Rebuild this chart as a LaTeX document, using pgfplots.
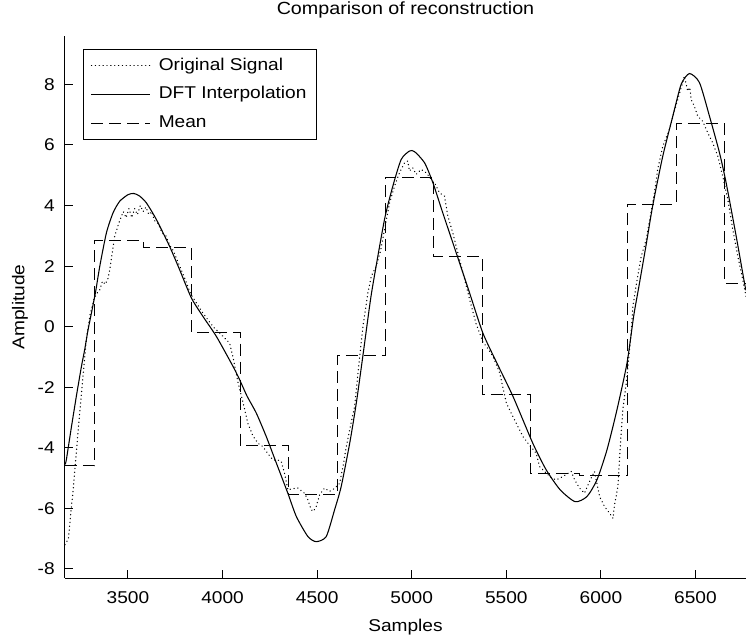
\documentclass[border=0pt]{standalone}
\usepackage{fontspec}
\setmainfont{Liberation Sans}[FakeStretch=1.12]
\usepackage{pgfplots}
\pgfplotsset{compat=1.18}
\begin{document}
\fontsize{12.8pt}{15pt}\selectfont
\begin{tikzpicture}
\useasboundingbox (-48.75pt,-45.75pt) rectangle (510.75pt,433.5pt);
\begin{axis}[
  at={(0pt,0pt)}, anchor=south west,
  scale only axis, width=510.75pt, height=406.5pt,
  xmin=3167, xmax=6767, ymin=-8.3, ymax=9.6,
  axis lines=left, axis line style={-, line width=0.75pt, black},
  tick align=inside, major tick length=6pt,
  tick style={line width=0.75pt, black},
  xtick={3500,4000,...,6500}, ytick={-8,-6,...,8},
  /pgf/number format/assume math mode=true,
  /pgf/number format/set thousands separator={},
  xticklabel style={anchor=base, yshift=-19.1pt},
  yticklabel style={anchor=east, xshift=-3.3pt},
  title={Comparison of reconstruction},
  title style={at={(axis description cs:0.5,1.0242)}, anchor=base, font=\fontsize{13.2pt}{15pt}\selectfont},
  xlabel={Samples},
  xlabel style={at={(axis description cs:0.5,-0.0996)}, anchor=base},
  ylabel={Amplitude},
  ylabel style={at={(axis description cs:-0.0661,0.5)}, anchor=center},
  legend style={at={(axis description cs:0.0264,0.976)}, anchor=north west,
    draw=black, line width=0.75pt, inner xsep=5.5pt, inner ysep=4pt, row sep=5pt, column sep=4pt,
    nodes={inner sep=2pt, text height=9.5pt, text depth=3pt},
    cells={anchor=west}},
  legend image code/.code={\draw[#1] (0pt,0pt) -- (44pt,0pt);},
]
% Original signal
\addplot[black, line width=1pt, line cap=round, dash pattern=on 0.1pt off 2.8pt] coordinates {
(3167,-7.2) (3185,-7.0) (3197,-6.2) (3210,-5.4) (3237,-3.4) (3254,-2.2) (3280,-0.4)
(3300,0.4) (3320,0.9) (3335,1.1) (3350,1.2) (3365,1.5) (3380,1.4) (3395,1.6)
(3404,1.9) (3430,3.0) (3456,3.5) (3475,3.8) (3490,3.6) (3505,3.9) (3520,3.6)
(3535,3.9) (3550,3.7) (3565,4.0) (3580,3.8) (3595,3.95) (3610,3.7) (3625,3.8)
(3640,3.5) (3660,3.4) (3680,3.1) (3700,3.0) (3720,2.7) (3740,2.5) (3760,2.2)
(3780,1.9) (3800,1.6) (3830,1.1) (3860,0.8) (3896,0.45) (3950,0.0) (4002,-0.32)
(4037,-0.54) (4055,-1.0) (4080,-1.8) (4108,-2.5) (4134,-3.2) (4160,-3.6) (4187,-3.85)
(4213,-3.96) (4240,-4.2) (4266,-4.4) (4290,-4.4) (4310,-4.45) (4330,-4.9) (4345,-5.39)
(4370,-5.35) (4398,-5.33) (4433,-5.5) (4451,-5.72) (4469,-6.05) (4480,-6.1) (4495,-5.94)
(4513,-5.55) (4539,-5.33) (4566,-5.44) (4590,-5.35) (4619,-5.17) (4640,-4.5) (4654,-3.96)
(4672,-3.4) (4698,-2.63) (4725,-0.98) (4742,0.0) (4768,1.11) (4786,1.66) (4812,2.0)
(4835,2.5) (4856,3.2) (4883,4.09) (4909,4.64) (4935,5.08) (4962,5.41) (4979,5.47)
(4988,5.14) (5005,5.25) (5023,5.03) (5050,5.19) (5077,5.08) (5103,4.86) (5125,4.7)
(5147,4.42) (5173,4.31) (5191,3.65) (5217,3.1) (5235,2.65) (5270,1.8) (5306,0.9)
(5340,0.1) (5376,-0.5) (5400,-0.7) (5429,-0.98) (5465,-1.53) (5500,-2.52) (5535,-2.97)
(5553,-3.2) (5588,-3.63) (5620,-3.9) (5658,-4.18) (5676,-4.62) (5711,-4.84) (5740,-5.0)
(5764,-5.06) (5799,-4.95) (5843,-4.78) (5861,-5.06) (5887,-5.33) (5913,-5.5) (5940,-5.11)
(5966,-4.78) (5993,-5.61) (6019,-5.94) (6046,-6.16) (6064,-6.33) (6072,-5.88) (6090,-5.28)
(6099,-4.29) (6107,-3.52) (6116,-2.74) (6134,-1.86) (6143,-1.31) (6160,-0.21) (6169,0.67)
(6190,1.5) (6213,2.32) (6239,2.86) (6260,3.6) (6283,4.42) (6300,5.19) (6327,5.96)
(6362,6.51) (6388,7.12) (6406,7.5) (6432,8.06) (6441,8.28) (6459,7.78) (6470,7.9)
(6477,7.5) (6494,7.28) (6512,6.95) (6538,6.79) (6565,6.4) (6591,6.07) (6618,5.63)
(6644,4.97) (6671,4.2) (6697,3.21) (6724,2.32) (6750,1.55) (6767,1.0)
};
\addlegendentry{Original Signal}
% DFT interpolation
\addplot[black, line width=0.8pt, smooth, tension=0.4] coordinates {
(3167,-4.55) (3174,-4.4) (3200,-3.35) (3227,-2.3) (3254,-1.31) (3271,-0.76) (3289,-0.1)
(3310,0.55) (3330,1.2) (3351,2.0) (3386,3.1) (3421,3.76) (3456,4.14) (3500,4.36)
(3530,4.40) (3560,4.32) (3597,4.09) (3650,3.54) (3720,2.65) (3773,1.88) (3835,0.95)
(3896,0.34) (3967,-0.32) (4055,-1.31) (4090,-1.75) (4130,-2.3) (4178,-2.85) (4231,-3.63)
(4284,-4.5) (4345,-5.5) (4390,-6.27) (4451,-6.93) (4495,-7.1) (4548,-6.93) (4592,-6.05)
(4627,-5.28) (4672,-3.85) (4707,-2.52) (4742,-0.95) (4777,0.67) (4795,1.4) (4856,3.54)
(4900,4.64) (4944,5.52) (4988,5.8) (5015,5.78) (5068,5.41) (5112,4.75) (5164,3.76)
(5235,2.44) (5306,1.11) (5376,-0.21) (5450,-1.2) (5535,-2.30) (5640,-3.85) (5711,-4.73)
(5785,-5.39) (5864,-5.78) (5926,-5.61) (5979,-5.06) (6032,-4.07) (6085,-2.74) (6138,-1.2)
(6173,0.34) (6200,1.3) (6239,2.7) (6274,4.0) (6327,5.63) (6380,6.95) (6424,8.0)
(6468,8.36) (6521,8.06) (6574,6.95) (6627,5.74) (6662,4.75) (6715,2.99) (6759,1.44) (6767,1.2)
};
\addlegendentry{DFT Interpolation}
% Mean (piecewise constant)
\addplot[black, line width=0.75pt, const plot, dash pattern=on 9pt off 4.5pt] coordinates {
(3167,-4.6) (3325,2.85) (3581,2.62) (3837,-0.2) (4093,-3.93) (4349,-5.55) (4605,-0.95)
(4861,4.92) (5117,2.32) (5373,-2.25) (5629,-4.86) (5885,-4.92) (6141,4.05) (6397,6.71)
(6653,1.42) (6767,1.42)
};
\addlegendentry{Mean}
\end{axis}
\end{tikzpicture}
\end{document}
